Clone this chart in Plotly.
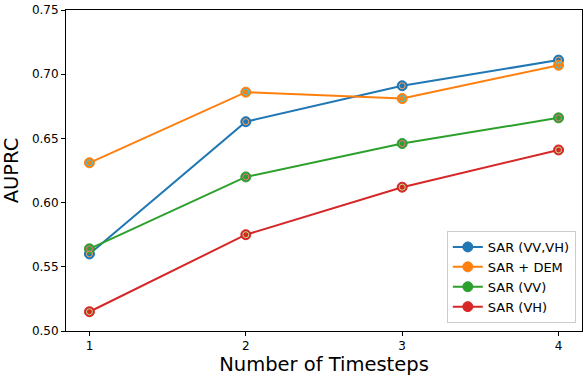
import plotly.graph_objects as go

timesteps = [1, 2, 3, 4]
sar_vv_vh = [0.560, 0.663, 0.691, 0.711]
sar_dem = [0.631, 0.686, 0.681, 0.707]
sar_vv = [0.564, 0.620, 0.646, 0.666]
sar_vh = [0.515, 0.575, 0.612, 0.641]

series = [
    ("SAR (VV,VH)", sar_vv_vh, "#1f77b4"),
    ("SAR + DEM", sar_dem, "#ff7f0e"),
    ("SAR (VV)", sar_vv, "#2ca02c"),
    ("SAR (VH)", sar_vh, "#d62728"),
]

fig = go.Figure()
for name, vals, color in series:
    fig.add_trace(go.Scatter(
        x=timesteps, y=vals, name=name, mode="lines+markers",
        line=dict(color=color, width=2),
        marker=dict(symbol="circle", size=10, color=color,
                    line=dict(color=color, width=1)),
    ))
# faint inner ring on each marker
for name, vals, color in series:
    fig.add_trace(go.Scatter(
        x=timesteps, y=vals, mode="markers", showlegend=False, hoverinfo="skip",
        marker=dict(symbol="circle-open", size=6,
                    line=dict(color="rgba(255,255,255,0.55)", width=1)),
    ))

axis_common = dict(
    showline=True, linecolor="black", linewidth=1, mirror=True,
    ticks="outside", ticklen=4, tickcolor="black", tickwidth=1,
    showgrid=False, zeroline=False,
    tickfont=dict(family="DejaVu Sans", size=12, color="black"),
)

fig.update_layout(
    width=586, height=382,
    margin=dict(l=66, r=3, t=8, b=51),
    plot_bgcolor="white", paper_bgcolor="white",
    font=dict(family="DejaVu Sans", color="black"),
    xaxis=dict(range=[0.85, 4.15], tickvals=timesteps,
               title=dict(text="Number of Timesteps", font=dict(size=19.5), standoff=4),
               **axis_common),
    yaxis=dict(range=[0.50, 0.75], tickvals=[0.50, 0.55, 0.60, 0.65, 0.70, 0.75],
               tickformat=".2f",
               title=dict(text="AUPRC", font=dict(size=19.5), standoff=8),
               **axis_common),
    legend=dict(x=0.988, y=0.025, xanchor="right", yanchor="bottom",
                bgcolor="rgba(255,255,255,0.8)", bordercolor="#cccccc", borderwidth=1,
                font=dict(size=13), tracegroupgap=0, itemwidth=30),
)

fig.write_html("out.html", config={"displayModeBar": False},
               post_script="document.body.style.margin='0';")
